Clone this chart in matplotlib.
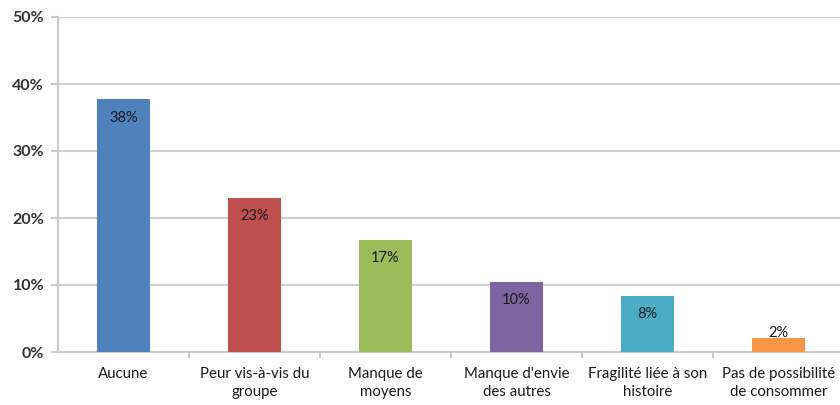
import matplotlib.pyplot as plt
import numpy as np

plt.rcParams['font.family'] = ['Lato', 'DejaVu Sans']

# data
categories = ['Aucune', 'Peur vis-à-vis du\ngroupe', 'Manque de\nmoyens',
              "Manque d'envie\ndes autres", 'Fragilité liée à son\nhistoire',
              'Pas de possibilité\nde consommer']
values = [37.7, 23.0, 16.7, 10.4, 8.4, 2.1]
labels = ['38%', '23%', '17%', '10%', '8%', '2%']
colors = ['#4f81bd', '#c0504d', '#9bbb59', '#8064a2', '#4bacc6', '#f79646']

fig = plt.figure(figsize=(8.4, 4.05), dpi=100)
ax = fig.add_axes([58/840, 53/405, 786/840, 335/405])

x = np.arange(len(categories))
ax.bar(x, values, width=0.4, color=colors, zorder=3)

# labels sit just inside the top of each bar; tiny bars push the text up
for xi, v, lab in zip(x, values, labels):
    ypos = v - 2.7 if v > 5 else v + 0.7
    ax.text(xi, ypos, lab, ha='center', va='center', fontsize=10.5, color='#1a1a1a', zorder=4)

ax.set_xlim(-0.5, 5.5)
ax.set_ylim(0, 50)
ax.set_yticks(range(0, 51, 10))
ax.set_yticklabels([f'{t}%' for t in range(0, 51, 10)], fontsize=11.5, fontweight='bold', color='#333333')
ax.yaxis.grid(True, color='#d0d0d0', linewidth=1.5, zorder=0)

ax.set_xticks(x)
ax.set_xticklabels(categories, fontsize=10.8, color='#1a1a1a', linespacing=1.35)
ax.tick_params(axis='x', length=0, pad=11)
ax.set_xticks(np.arange(0.5, 5.5, 1), minor=True)
ax.tick_params(axis='x', which='minor', length=4, color='#bbbbbb', width=1.2)
ax.tick_params(axis='y', length=5, color='#cccccc', width=1.5, pad=5)

for s in ['top', 'right']:
    ax.spines[s].set_visible(False)
ax.spines['left'].set_color('#cccccc')
ax.spines['left'].set_linewidth(1.5)
ax.spines['bottom'].set_color('#cccccc')
ax.spines['bottom'].set_linewidth(1.5)

fig.savefig('out.png', dpi=100)
